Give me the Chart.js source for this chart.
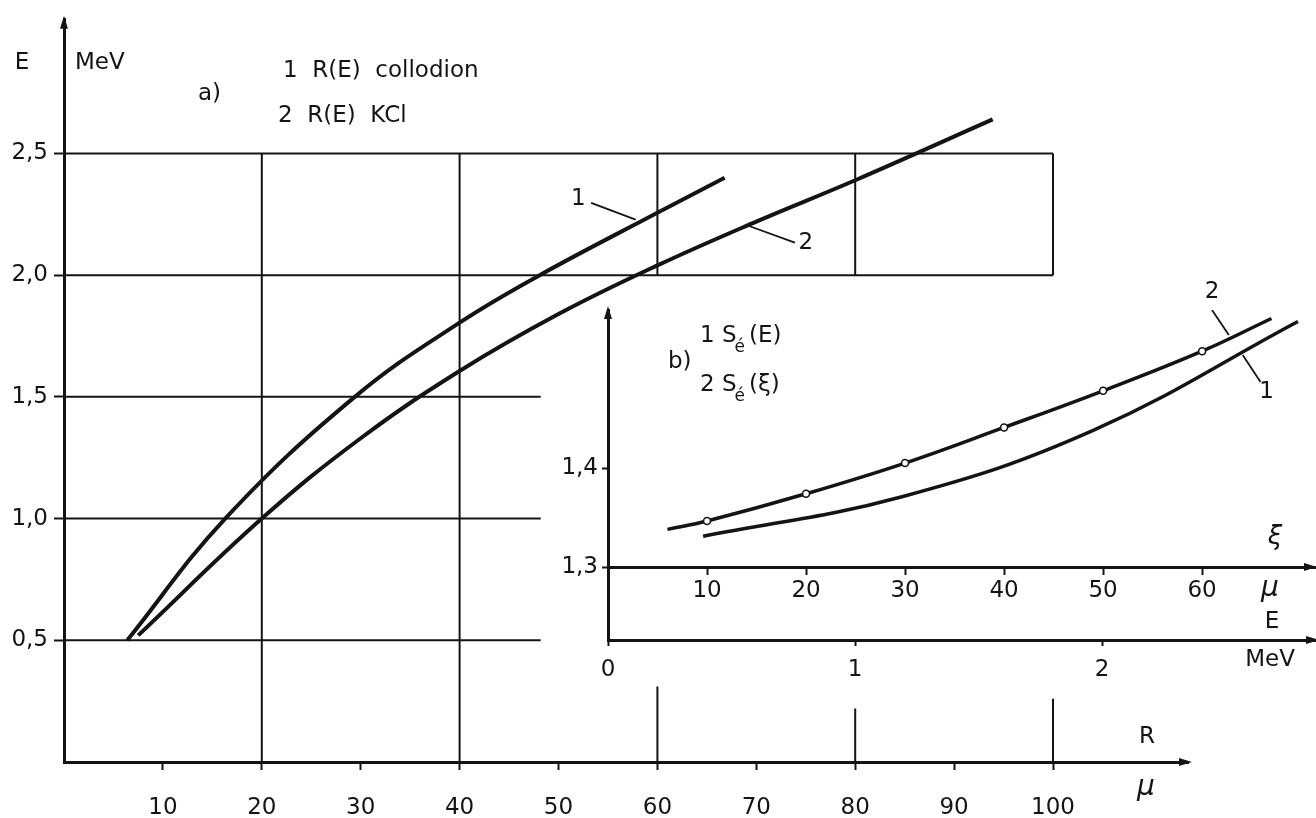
<!DOCTYPE html>
<html>
<head>
<meta charset="utf-8">
<script src="https://cdn.jsdelivr.net/npm/chart.js@4.4.1/dist/chart.umd.min.js"></script>
<style>
  body { margin: 0; background: #fff; }
  #wrap { position: relative; width: 1316px; height: 818px; }
  #mainChart { position: absolute; left: 0; top: 0; }
  #insetChart { position: absolute; left: 540px; top: 270px; }
</style>
</head>
<body>
<div id="wrap">
  <canvas id="mainChart" width="1316" height="818"></canvas>
  <canvas id="insetChart" width="776" height="420"></canvas>
</div>
<script>
const INK = '#141414';
const FONT = 'DejaVu Sans';

// --- a) range R (micron) vs energy E (MeV) ---
const rTicks = [10, 20, 30, 40, 50, 60, 70, 80, 90, 100];
const eTicks = [0.5, 1.0, 1.5, 2.0, 2.5];
const collodionR = [6.4, 16.3, 29.4, 40, 48.1, 60, 66.8];
const collodionE = [0.50, 1.0, 1.5, 1.805, 2.0, 2.256, 2.40];
const kclR = [7.5, 20, 30, 40, 50, 60, 70, 80, 93.9];
const kclE = [0.52, 1.0, 1.33, 1.606, 1.84, 2.04, 2.22, 2.39, 2.64];
// grid pieces: rows [E, R from, R to], cols [R, E from, E to]
const gridRows = [[2.5, 0, 100], [2.0, 0, 100], [1.5, 0, 48.2], [1.0, 0, 48.2], [0.5, 0, 48.2]];
const gridCols = [[20, 0, 2.5], [40, 0, 2.5], [60, 2.0, 2.5], [60, 0, 0.31], [80, 2.0, 2.5], [80, 0, 0.22], [100, 2.0, 2.5], [100, 0, 0.26]];
const lead1R = [53.3, 57.8], lead1E = [2.297, 2.228];
const lead2R = [69.2, 73.9], lead2E = [2.203, 2.134];

// --- b) S vs xi (micron) and vs E (MeV) ---
const xiTicks = [10, 20, 30, 40, 50, 60];
const sTicks = [1.3, 1.4];
const eInsetTicks = [0, 1, 2];
const sXi = [6.0, 10, 20, 30, 40, 50, 60, 67.0];
const sXiVal = [1.338, 1.3465, 1.374, 1.405, 1.441, 1.478, 1.518, 1.551];
const sE = [0.385, 1.19, 1.964, 2.793];
const sEVal = [1.331, 1.371, 1.438, 1.548];
const leadB2Xi = [61.0, 62.7], leadB2S = [1.5596, 1.5343];
const leadB1Xi = [64.1, 65.9], leadB1S = [1.5141, 1.4869];

function pts(xs, ys) {
  return xs.map((x, i) => ({ x: x, y: ys[i] }));
}
function segs(list, horizontal) {
  const out = [];
  list.forEach(s => {
    if (horizontal) out.push({ x: s[1], y: s[0] }, { x: s[2], y: s[0] }, { x: s[2], y: null });
    else out.push({ x: s[0], y: s[1] }, { x: s[0], y: s[2] }, { x: s[0], y: null });
  });
  return out;
}
function line(data, width, extra) {
  return Object.assign({
    data: data, showLine: true, borderColor: INK, borderWidth: width,
    pointRadius: 0, fill: false, spanGaps: false, tension: 0
  }, extra || {});
}
const comma = v => Number(v).toFixed(1).replace('.', ',');

function text(ctx, str, x, y, align, font) {
  ctx.save();
  ctx.fillStyle = INK;
  ctx.font = font || ('23px "' + FONT + '"');
  ctx.textAlign = align || 'left';
  ctx.textBaseline = 'middle';
  ctx.fillText(str, x, y);
  ctx.restore();
}
function arrow(ctx, x, y, dir) {
  ctx.save();
  ctx.fillStyle = INK;
  ctx.beginPath();
  if (dir === 'up') {
    ctx.moveTo(x, y - 4); ctx.lineTo(x - 4, y + 9); ctx.lineTo(x + 4, y + 9);
  } else {
    ctx.moveTo(x + 4, y); ctx.lineTo(x - 9, y - 4); ctx.lineTo(x - 9, y + 4);
  }
  ctx.closePath();
  ctx.fill();
  ctx.restore();
}
// "n S_é(arg)" with a small subscript
function sLabel(ctx, n, arg, x, y) {
  ctx.save();
  ctx.fillStyle = INK;
  ctx.textBaseline = 'middle';
  ctx.font = '23px "' + FONT + '"';
  let s = n + ' S';
  ctx.fillText(s, x, y);
  let cx = x + ctx.measureText(s).width;
  ctx.font = '17px "' + FONT + '"';
  ctx.fillText('é', cx - 2, y + 12);
  cx += ctx.measureText('é').width + 2;
  ctx.font = '23px "' + FONT + '"';
  ctx.fillText('(' + arg + ')', cx, y);
  ctx.restore();
}

const mainDecor = {
  id: 'mainDecor',
  afterDraw(chart) {
    const ctx = chart.ctx, a = chart.chartArea;
    const x = chart.scales.x, y = chart.scales.y;
    arrow(ctx, a.left, a.top, 'up');
    arrow(ctx, a.right, a.bottom, 'right');
    text(ctx, 'E', 22, 63, 'center');
    text(ctx, 'MeV', 75, 63);
    text(ctx, 'a)', 198, 94);
    text(ctx, '1  R(E)  collodion', 283, 71);
    text(ctx, '2  R(E)  KCl', 278, 116);
    text(ctx, 'R', 1147, 737, 'center');
    text(ctx, 'μ', 1146, 788, 'center', 'italic 28px "' + FONT + '"');
    text(ctx, '1', x.getPixelForValue(52.0), y.getPixelForValue(2.313), 'center');
    text(ctx, '2', x.getPixelForValue(75.0), y.getPixelForValue(2.13), 'center');
  }
};

new Chart(document.getElementById('mainChart'), {
  type: 'scatter',
  data: {
    datasets: [
      line(segs(gridRows, true), 2),
      line(segs(gridCols, false), 2),
      line(pts(collodionR, collodionE), 4, { tension: 0.4 }),
      line(pts(kclR, kclE), 4, { tension: 0.4 }),
      line(pts(lead1R, lead1E), 1.8),
      line(pts(lead2R, lead2E), 1.8)
    ]
  },
  options: {
    responsive: false,
    animation: false,
    devicePixelRatio: 1,
    layout: { padding: { top: 12, right: 128, left: 0, bottom: 0 } },
    plugins: { legend: { display: false }, tooltip: { enabled: false } },
    scales: {
      x: {
        type: 'linear', min: 0, max: 113.65,
        afterBuildTicks: s => { s.ticks = rTicks.map(v => ({ value: v })); },
        afterFit: s => { s.height = 56; },
        grid: { drawOnChartArea: false, tickLength: 8, tickWidth: 2, tickColor: INK },
        border: { color: INK, width: 3 },
        ticks: { color: INK, font: { family: FONT, size: 23 }, padding: 24, maxRotation: 0, autoSkip: false }
      },
      y: {
        type: 'linear', min: 0, max: 3.049,
        afterBuildTicks: s => { s.ticks = eTicks.map(v => ({ value: v })); },
        afterFit: s => { s.width = 64; },
        grid: { drawOnChartArea: false, tickLength: 10, tickWidth: 2, tickColor: INK },
        border: { color: INK, width: 3 },
        ticks: { color: INK, font: { family: FONT, size: 23 }, padding: 6, callback: comma }
      }
    }
  },
  plugins: [mainDecor]
});

const insetDecor = {
  id: 'insetDecor',
  afterDraw(chart) {
    const ctx = chart.ctx, a = chart.chartArea;
    const xi = chart.scales.xi, ys = chart.scales.ys;
    const axisY = ys.getPixelForValue(1.3);
    arrow(ctx, a.left, a.top, 'up');
    arrow(ctx, a.right, a.bottom, 'right');
    arrow(ctx, a.right - 2, axisY, 'right');
    text(ctx, 'b)', 128, 92);
    sLabel(ctx, '1', 'E', 160, 66);
    sLabel(ctx, '2', 'ξ', 160, 115);
    text(ctx, 'ξ', 735, axisY - 30, 'center', 'italic 26px "' + FONT + '"');
    text(ctx, 'μ', 730, axisY + 22, 'center', 'italic 28px "' + FONT + '"');
    text(ctx, 'E', 732, a.bottom - 18, 'center');
    text(ctx, 'MeV', 730, a.bottom + 20, 'center');
    text(ctx, '2', xi.getPixelForValue(61.0), ys.getPixelForValue(1.5778), 'center');
    text(ctx, '1', xi.getPixelForValue(66.5), ys.getPixelForValue(1.4768), 'center');
  }
};

new Chart(document.getElementById('insetChart'), {
  type: 'scatter',
  data: {
    datasets: [
      line(pts(sXi, sXiVal), 3.5, {
        xAxisID: 'xi', yAxisID: 'ys', tension: 0.4,
        pointRadius: sXi.map((v, i) => (i === 0 || i === sXi.length - 1) ? 0 : 3.5),
        pointBackgroundColor: '#fff', pointBorderColor: INK, pointBorderWidth: 1.6
      }),
      line(pts(sE, sEVal), 3.5, { xAxisID: 'xe', yAxisID: 'ys', tension: 0.4 }),
      line(pts(leadB2Xi, leadB2S), 1.8, { xAxisID: 'xi', yAxisID: 'ys' }),
      line(pts(leadB1Xi, leadB1S), 1.8, { xAxisID: 'xi', yAxisID: 'ys' })
    ]
  },
  options: {
    responsive: false,
    animation: false,
    devicePixelRatio: 1,
    layout: { padding: { top: 40, right: 1, left: 0, bottom: 0 } },
    plugins: { legend: { display: false }, tooltip: { enabled: false } },
    scales: {
      xe: {
        type: 'linear', position: 'bottom', min: 0, max: 2.862,
        afterBuildTicks: s => { s.ticks = eInsetTicks.map(v => ({ value: v })); },
        afterFit: s => { s.height = 50; },
        grid: { drawOnChartArea: false, tickLength: 6, tickWidth: 2, tickColor: INK },
        border: { color: INK, width: 3 },
        ticks: { color: INK, font: { family: FONT, size: 23 }, padding: 10, maxRotation: 0, autoSkip: false }
      },
      xi: {
        type: 'linear', position: { ys: 1.3 }, min: 0, max: 71.4,
        afterBuildTicks: s => { s.ticks = xiTicks.map(v => ({ value: v })); },
        grid: { drawOnChartArea: false, tickLength: 6, tickWidth: 2, tickColor: INK },
        border: { color: INK, width: 3 },
        ticks: { color: INK, font: { family: FONT, size: 23 }, padding: 4, maxRotation: 0, autoSkip: false }
      },
      ys: {
        type: 'linear', position: 'left', min: 1.2263, max: 1.5596,
        afterBuildTicks: s => { s.ticks = sTicks.map(v => ({ value: v })); },
        afterFit: s => { s.width = 68; },
        grid: { drawOnChartArea: false, tickLength: 6, tickWidth: 2, tickColor: INK },
        border: { color: INK, width: 3 },
        ticks: { color: INK, font: { family: FONT, size: 23 }, padding: 4, callback: comma }
      }
    }
  },
  plugins: [insetDecor]
});
</script>
</body>
</html>
